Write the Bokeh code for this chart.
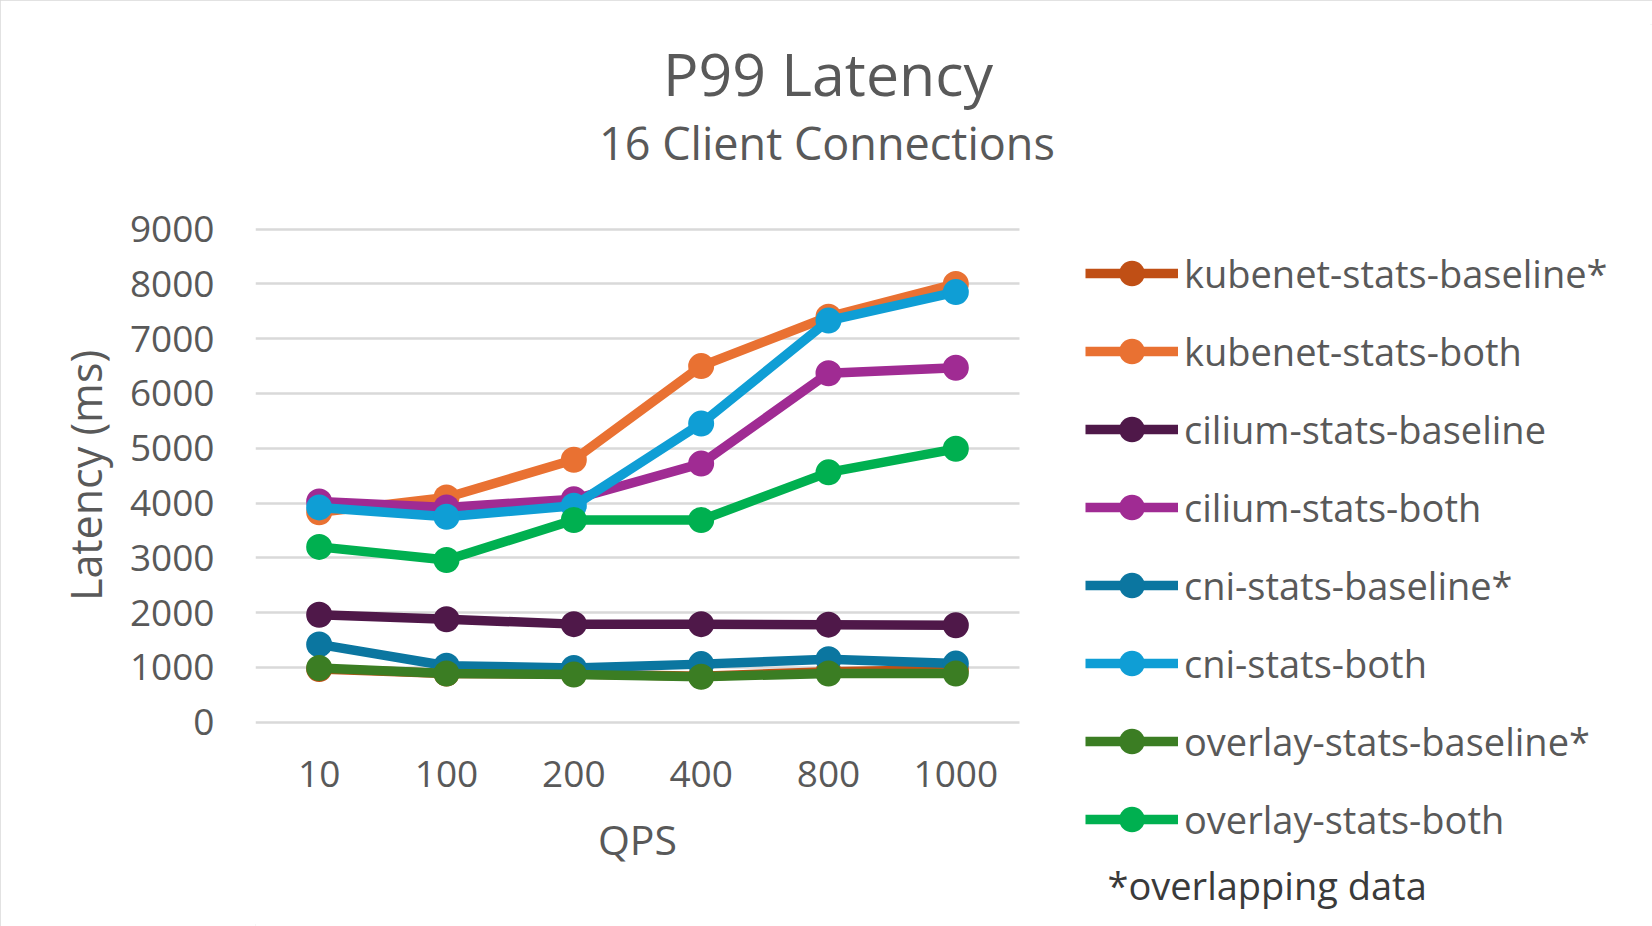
from bokeh.plotting import figure
from bokeh.models import Range1d, FixedTicker, Legend, LegendItem, Label, Grid
from bokeh.embed import file_html
from bokeh.resources import INLINE

qps = ["10", "100", "200", "400", "800", "1000"]
series_names = [
    "kubenet-stats-baseline*", "kubenet-stats-both",
    "cilium-stats-baseline", "cilium-stats-both",
    "cni-stats-baseline*", "cni-stats-both",
    "overlay-stats-baseline*", "overlay-stats-both",
]
kubenet_baseline = [970, 890, 880, 840, 920, 960]
kubenet_both = [3830, 4100, 4790, 6500, 7400, 8000]
cilium_baseline = [1960, 1880, 1790, 1790, 1780, 1770]
cilium_both = [4030, 3920, 4070, 4720, 6370, 6470]
cni_baseline = [1420, 1030, 990, 1060, 1150, 1070]
cni_both = [3920, 3750, 3950, 5450, 7330, 7850]
overlay_baseline = [990, 890, 870, 830, 890, 890]
overlay_both = [3200, 2960, 3690, 3690, 4560, 4990]
y_ticks = [0, 1000, 2000, 3000, 4000, 5000, 6000, 7000, 8000, 9000]

series_values = [kubenet_baseline, kubenet_both, cilium_baseline, cilium_both,
                 cni_baseline, cni_both, overlay_baseline, overlay_both]
colors = ["#C04F15", "#E97132", "#4F1849", "#A02B93",
          "#0B76A0", "#0F9ED5", "#3B7D23", "#00B050"]

FONT = "Open Sans"
TXT = "#595959"

# ---- layout geometry (pixels) ----
W, H = 1652, 926
LEFT, TOP = 255, 24                 # frame left / top
PLOT_RIGHT = 1019                   # right end of the plotting area
Y0_PX, YTOP_PX = 721.7, 228.6       # pixel rows of y=0 and y=9000
n_cat = len(qps)
cat_px = (PLOT_RIGHT - LEFT) / n_cat
ppu = (Y0_PX - YTOP_PX) / y_ticks[-1]
x_end = (W - LEFT) / cat_px
y_start = -(H - Y0_PX) / ppu
y_end = (Y0_PX - TOP) / ppu

x_pos = [i + 0.5 for i in range(n_cat)]   # category centres

p = figure(width=W, height=H, x_range=Range1d(0, x_end), y_range=Range1d(y_start, y_end),
           output_backend="svg", toolbar_location=None, title=None,
           min_border_left=LEFT, min_border_right=0,
           min_border_top=TOP, min_border_bottom=0,
           styles={"outline": "2px solid #d9d9d9", "outline-offset": "-2px"})
p.outline_line_color = None
p.background_fill_color = "white"
p.border_fill_color = "white"

p.xgrid.grid_line_color = None
if "cross_bounds" in Grid.properties():
    p.ygrid.grid_line_color = "#d9d9d9"
    p.ygrid.grid_line_width = 2.5
    p.ygrid.cross_bounds = (0, n_cat)
    p.ygrid.ticker = FixedTicker(ticks=y_ticks)
else:
    p.ygrid.grid_line_color = None
    p.segment(x0=[0] * len(y_ticks), x1=[n_cat] * len(y_ticks), y0=y_ticks, y1=y_ticks,
              line_color="#d9d9d9", line_width=2.5)

p.yaxis.ticker = FixedTicker(ticks=y_ticks)
p.xaxis.ticker = FixedTicker(ticks=x_pos)
p.xaxis.major_label_overrides = {x: q for x, q in zip(x_pos, qps)}
p.xaxis.fixed_location = 0

for ax in (p.xaxis[0], p.yaxis[0]):
    ax.axis_line_color = None
    ax.major_tick_line_color = None
    ax.minor_tick_line_color = None
    ax.major_tick_out = 0
    ax.major_tick_in = 0
    ax.minor_tick_out = 0
    ax.major_label_text_font = FONT
    ax.major_label_text_font_size = "37px"
    ax.major_label_text_color = TXT
    ax.axis_label_text_font = FONT
    ax.axis_label_text_font_size = "43px"
    ax.axis_label_text_color = TXT
    ax.axis_label_text_font_style = "normal"

p.yaxis.major_label_standoff = 41
p.yaxis.axis_label = "Latency (ms)"
p.yaxis.axis_label_standoff = 12
p.xaxis.major_label_standoff = 39

items = []
for name, vals, col in zip(series_names, series_values, colors):
    ln = p.line(x_pos, vals, line_color=col, line_width=9.5)
    sc = p.scatter(x_pos, vals, size=26, fill_color=col, line_color=col, line_width=0)
    items.append(LegendItem(label=name, renderers=[ln, sc]))

legend = Legend(items=items, location=(1085 - LEFT, 75), orientation="vertical",
                glyph_width=93, glyph_height=64, label_height=64, spacing=14,
                label_standoff=6, padding=0, margin=0,
                label_text_font=FONT, label_text_font_size="38px",
                label_text_color=TXT, border_line_color=None,
                background_fill_alpha=0)
p.add_layout(legend, "center")

def lab(text, cx, base_y, size, color=TXT, align="center"):
    # Bokeh draws "alphabetic" text ~0.4 em lower than the requested screen y
    p.add_layout(Label(x=cx - LEFT, y=H - base_y + 0.4 * size,
                       x_units="screen", y_units="screen",
                       text=text, text_align=align, text_baseline="alphabetic",
                       text_font=FONT, text_font_size=f"{size}px", text_color=color))

lab("P99 Latency", 827.5, 96, 59)
lab("16 Client Connections", 826.5, 160, 45)
lab("QPS", 637, 855, 41)
lab("*overlapping data", 1107, 900, 38, color="#3a3a3a", align="left")

open("out.html", "w").write(file_html(p, INLINE))
